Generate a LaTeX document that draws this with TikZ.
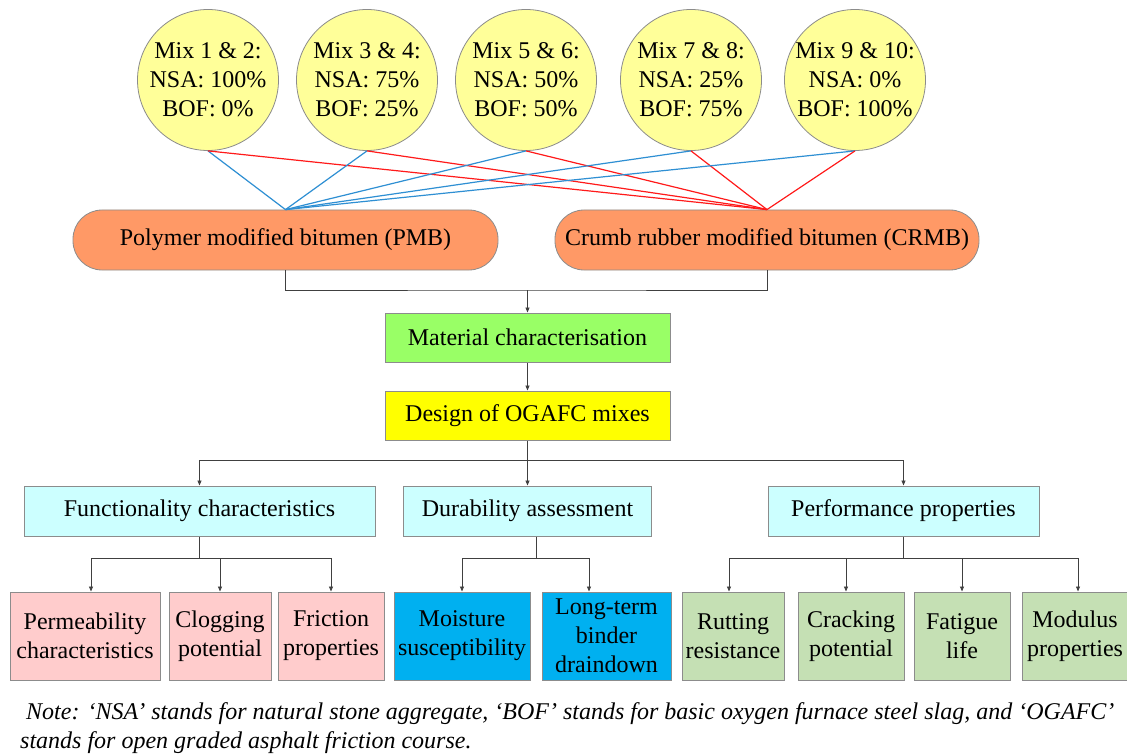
\documentclass[tikz,border=0pt]{standalone}
\usepackage{fontspec}
\setmainfont{Liberation Serif}
\usetikzlibrary{arrows.meta}
\definecolor{cyel}{HTML}{FFFF99}
\definecolor{corange}{HTML}{FF9966}
\definecolor{cgreen}{HTML}{99FF66}
\definecolor{cdesign}{HTML}{FFFF00}
\definecolor{ccyan}{HTML}{CCFFFF}
\definecolor{cpink}{HTML}{FFCCCC}
\definecolor{cblue}{HTML}{00B0F0}
\definecolor{cgr}{HTML}{C5E0B4}
\definecolor{lblue}{HTML}{2E8FD3}
\definecolor{lred}{HTML}{FF1A1A}
\definecolor{cborder}{HTML}{8C8C8C}
\begin{document}
\begin{tikzpicture}[x=1pt,y=-1pt,
  font=\fontsize{24}{29}\selectfont,
  circ/.style={circle, draw=cborder, fill=cyel, minimum size=141pt, inner sep=0pt, align=center, line width=0.8pt},
  pill/.style={rectangle, rounded corners=29pt, draw=cborder, fill=corange, minimum height=60pt, inner sep=0pt, line width=0.8pt},
  bx/.style={rectangle, draw=cborder, inner sep=0pt, align=center, line width=1pt},
  conn/.style={draw=black!75, line width=0.8pt},
  arr/.style={conn, -{Triangle[length=5pt,width=4pt]}},
  bline/.style={draw=lblue, line width=1.2pt},
  rline/.style={draw=lred, line width=1.2pt}]
\useasboundingbox (0,0) rectangle (1127,754);
\fill[white] (0,0) rectangle (1127,754);

% mixes
\node[circ] (m1) at (208,80) {Mix 1 \& 2:\\NSA: 100\%\\BOF: 0\%};
\node[circ] (m2) at (367,80) {Mix 3 \& 4:\\NSA: 75\%\\BOF: 25\%};
\node[circ] (m3) at (526,80) {Mix 5 \& 6:\\NSA: 50\%\\BOF: 50\%};
\node[circ] (m4) at (691,80) {Mix 7 \& 8:\\NSA: 25\%\\BOF: 75\%};
\node[circ] (m5) at (855,80) {Mix 9 \& 10:\\NSA: 0\%\\BOF: 100\%};

% binders
\node[pill, minimum width=425pt] (pmb) at (285.5,240) {Polymer modified bitumen (PMB)};
\node[pill, minimum width=424pt] (crmb) at (767,240) {Crumb rubber modified bitumen (CRMB)};

\foreach \m in {m1,m2,m3,m4,m5}{
  \draw[bline] (\m.south) -- (pmb.north);
  \draw[rline] (\m.south) -- (crmb.north);
}

% main chain
\node[bx, fill=cgreen, minimum width=285pt, minimum height=49pt] (mat) at (527.5,337.5) {Material characterisation};
\node[bx, fill=cdesign, minimum width=285pt, minimum height=49pt] (des) at (527.5,415.5) {Design of OGAFC mixes};

\node[bx, fill=ccyan, minimum width=351pt, minimum height=50pt] (func) at (199.5,511) {Functionality characteristics};
\node[bx, fill=ccyan, minimum width=248pt, minimum height=50pt] (dur) at (527.5,511) {Durability assessment};
\node[bx, fill=ccyan, minimum width=271pt, minimum height=50pt] (perf) at (903.5,511) {Performance properties};

% bottom boxes
\node[bx, fill=cpink, minimum width=150pt, minimum height=88pt] (perm) at (85,636) {Permeability\\characteristics};
\node[bx, fill=cpink, minimum width=102pt, minimum height=88pt] (clog) at (220,636) {Clogging\\potential};
\node[bx, fill=cpink, minimum width=106pt, minimum height=88pt] (fric) at (331,636) {Friction\\properties};
\node[bx, fill=cblue, minimum width=136pt, minimum height=88pt] (moist) at (462,636) {Moisture\\susceptibility};
\node[bx, fill=cblue, minimum width=129pt, minimum height=88pt] (long) at (606.5,636) {Long-term\\binder\\draindown};
\node[bx, fill=cgr, minimum width=102pt, minimum height=88pt] (rut) at (733,636) {Rutting\\resistance};
\node[bx, fill=cgr, minimum width=106pt, minimum height=88pt] (crack) at (851,636) {Cracking\\potential};
\node[bx, fill=cgr, minimum width=96pt, minimum height=88pt] (fat) at (962,636) {Fatigue\\life};
\node[bx, fill=cgr, minimum width=106pt, minimum height=88pt] (mod) at (1075,636) {Modulus\\properties};

% connectors top
\coordinate (jb) at (527.5,290);
\draw[conn] (pmb.south) |- (jb) -| (crmb.south);
\draw[arr] (jb) -- (mat.north);
\draw[arr] (mat.south) -- (des.north);
\coordinate (jd) at (527.5,460);
\draw[arr] (des.south) -- (dur.north);
\draw[conn] (func.north |- jd) -- (perf.north |- jd);
\draw[arr] (func.north |- jd) -- (func.north);
\draw[arr] (perf.north |- jd) -- (perf.north);

% functionality branch
\coordinate (jf) at (199.5,558);
\draw[conn] (func.south) -- (jf);
\draw[conn] ([xshift=6pt]perm.north |- jf) -- (fric.north |- jf);
\draw[arr] ([xshift=6pt]perm.north |- jf) -- ([xshift=6pt]perm.north);
\draw[arr] (clog.north |- jf) -- (clog.north);
\draw[arr] (fric.north |- jf) -- (fric.north);

% durability branch
\coordinate (ju) at (536,558);
\draw[conn] (dur.south -| ju) -- (ju);
\draw[conn] (moist.north |- ju) -- ([xshift=-17.5pt]long.north |- ju);
\draw[arr] (moist.north |- ju) -- (moist.north);
\draw[arr] ([xshift=-17.5pt]long.north |- ju) -- ([xshift=-17.5pt]long.north);

% performance branch
\coordinate (jp) at (903.5,558);
\draw[conn] (perf.south) -- (jp);
\draw[conn] ([xshift=-4pt]rut.north |- jp) -- ([xshift=3pt]mod.north |- jp);
\draw[arr] ([xshift=-4pt]rut.north |- jp) -- ([xshift=-4pt]rut.north);
\draw[arr] ([xshift=-5pt]crack.north |- jp) -- ([xshift=-5pt]crack.north);
\draw[arr] (fat.north |- jp) -- (fat.north);
\draw[arr] ([xshift=3pt]mod.north |- jp) -- ([xshift=3pt]mod.north);

% note
\node[anchor=north west, align=left, inner sep=0pt, font=\fontsize{24}{29}\selectfont\itshape] (note) at (20,702)
 {\hspace*{6pt}Note: ‘NSA’ stands for natural stone aggregate, ‘BOF’ stands for basic oxygen furnace steel slag, and ‘OGAFC’\\stands for open graded asphalt friction course.};
\end{tikzpicture}
\end{document}
